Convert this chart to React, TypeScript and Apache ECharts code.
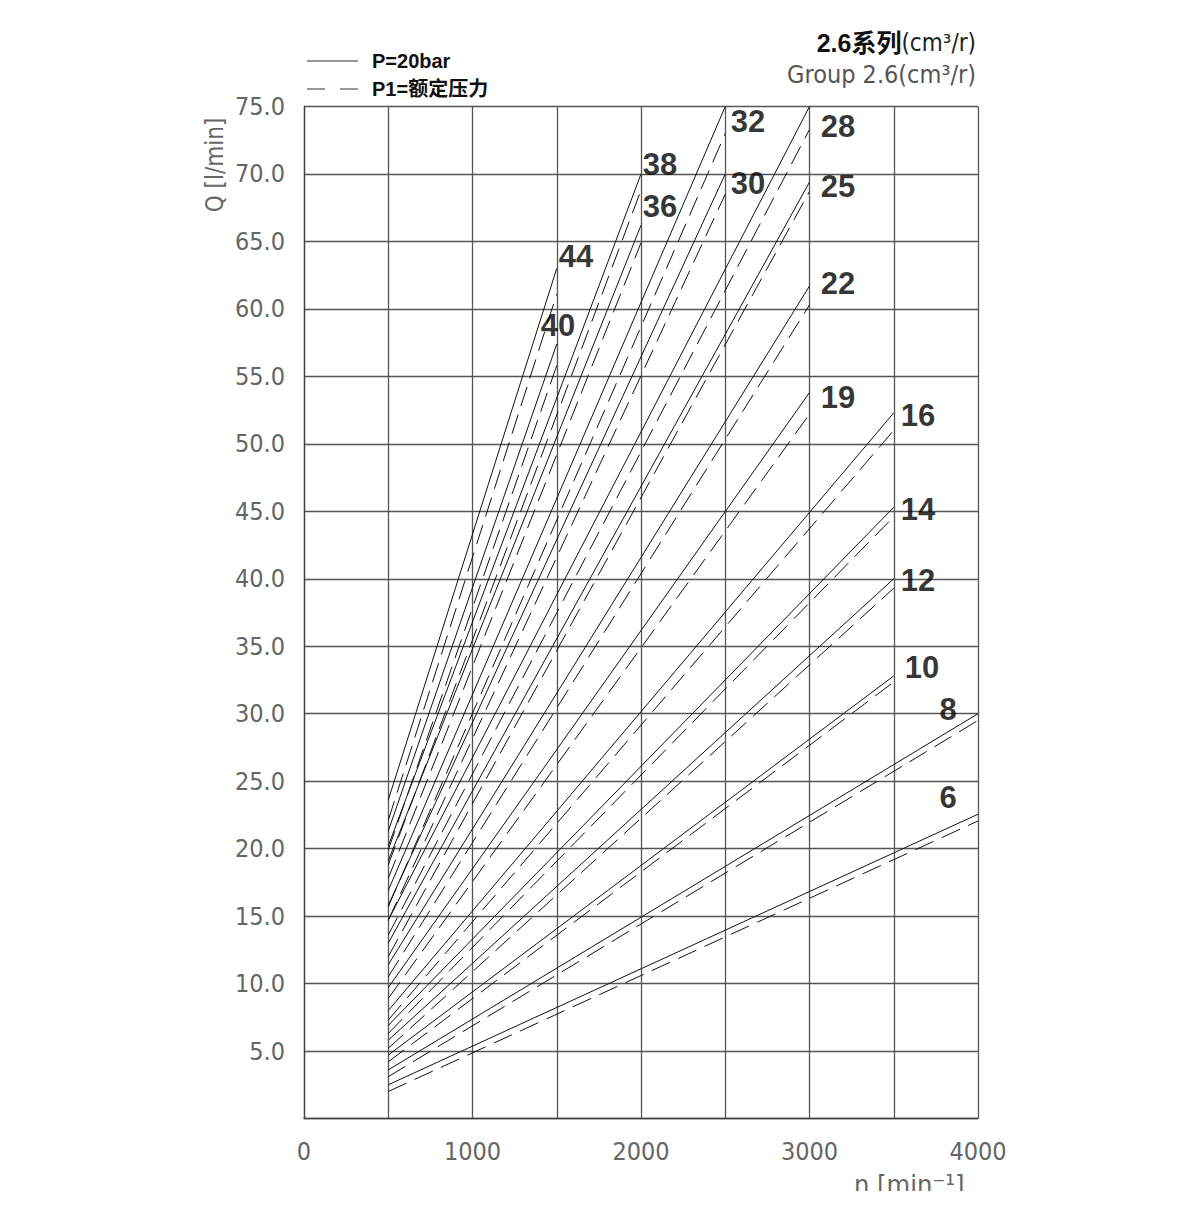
import React, { useEffect, useRef } from "react";
import * as echarts from "echarts";

// Displacements (cm³/r) and their curves: straight lines from n=500 to the end speed
const displacements = [6, 8, 10, 12, 14, 16, 19, 22, 25, 28, 30, 32, 36, 38, 40, 44];
const startSpeed = 500;
const endSpeeds = [4000, 4000, 3500, 3500, 3500, 3500, 3000, 3000, 3000, 3000, 2500, 2500, 2000, 2000, 1500, 1500];
// P = 20 bar (solid)
const solidStart = [2.5, 3.6, 4.7, 5.8, 6.9, 8.0, 9.7, 11.4, 13.0, 14.7, 15.8, 16.9, 19.1, 20.2, 21.3, 23.6];
const solidEnd = [22.55, 30.0, 32.8, 40.0, 45.3, 52.3, 53.8, 61.7, 69.4, 75.0, 70.0, 75.0, 66.2, 70.0, 57.4, 63.0];
// P1 = rated pressure (dashed)
const dashedStart = [2.0, 3.1, 4.2, 5.2, 6.3, 7.3, 8.9, 10.5, 12.0, 13.6, 14.7, 15.7, 17.8, 18.8, 19.9, 22.1];
const dashedEnd = [22.05, 29.5, 32.35, 39.3, 44.6, 51.0, 52.2, 60.3, 68.7, 73.3, 68.5, 73.0, 64.9, 68.8, 55.8, 61.1];
// Label anchor positions (n, Q) for the displacement numbers
const labelPos: [number, number][] = [
  [3822, 23.8], [3822, 30.3], [3668, 33.4], [3644, 39.9], [3644, 45.1], [3644, 52.1],
  [3169, 53.4], [3169, 61.9], [3169, 69.1], [3169, 73.5], [2635, 69.3], [2635, 73.9],
  [2113, 67.6], [2113, 70.7], [1507, 58.8], [1614, 63.9],
];
// Axes
const xMin = 0, xMax = 4000, xStep = 500;
const yMin = 0, yMax = 75, yStep = 5;

const NARROW = "'Liberation Sans Narrow', 'DejaVu Sans Condensed', Roboto, sans-serif";
const BOLD = "'Liberation Sans', Arial, 'Noto Sans CJK SC', sans-serif";

export default function App() {
  const ref = useRef<HTMLDivElement>(null);
  useEffect(() => {
    if (!ref.current) return;
    const chart = echarts.init(ref.current, null, { renderer: "svg" });
    const series: any[] = [];
    displacements.forEach((d, i) => {
      series.push({
        type: "line",
        name: `${d} P`,
        data: [[startSpeed, solidStart[i]], [endSpeeds[i], solidEnd[i]]],
        symbol: "none",
        lineStyle: { color: "#111", width: 1 },
        silent: true,
        z: 3,
      });
      series.push({
        type: "line",
        name: `${d} P1`,
        data: [[startSpeed, dashedStart[i]], [endSpeeds[i], dashedEnd[i]]],
        symbol: "none",
        lineStyle: { color: "#111", width: 1, type: [20, 9] },
        silent: true,
        z: 3,
      });
    });
    series.push({
      type: "scatter",
      symbolSize: 0,
      data: displacements.map((d, i) => ({ name: String(d), value: labelPos[i] })),
      label: {
        show: true,
        position: "inside",
        formatter: (p: any) => p.name,
        fontSize: 31,
        fontWeight: "bold",
        fontFamily: BOLD,
        color: "#000",
      },
      silent: true,
      z: 5,
    });

    chart.setOption({
      animation: false,
      backgroundColor: "#fff",
      grid: { left: 304, top: 106.5, width: 674, height: 1012, containLabel: false },
      xAxis: {
        type: "value",
        min: xMin,
        max: xMax,
        interval: xStep,
        axisLine: { show: true, lineStyle: { color: "#444", width: 1.3 } },
        axisTick: { show: false },
        splitLine: { show: true, lineStyle: { color: "#555", width: 1.3 } },
        axisLabel: {
          formatter: (v: number) => (v % 1000 === 0 ? String(v) : ""),
          margin: 20,
          color: "#666",
          fontSize: 25,
          fontFamily: NARROW,
        },
      },
      yAxis: {
        type: "value",
        min: yMin,
        max: yMax,
        interval: yStep,
        axisLine: { show: true, lineStyle: { color: "#444", width: 1.3 } },
        axisTick: { show: false },
        splitLine: { show: true, lineStyle: { color: "#555", width: 1.3 } },
        axisLabel: {
          formatter: (v: number) => (v === 0 ? "" : v.toFixed(1)),
          margin: 19,
          color: "#666",
          fontSize: 25,
          fontFamily: NARROW,
        },
      },
      graphic: [
        { type: "line", shape: { x1: 307, y1: 61, x2: 358, y2: 61 }, style: { stroke: "#333", lineWidth: 1 } },
        {
          type: "text", x: 372, y: 61,
          style: { text: "P=20bar", fontSize: 20, fontWeight: "bold", fontFamily: BOLD, fill: "#111", verticalAlign: "middle" },
        },
        { type: "line", shape: { x1: 307, y1: 89, x2: 358, y2: 89 }, style: { stroke: "#333", lineWidth: 1, lineDash: [18, 15] } },
        {
          type: "text", x: 372, y: 89,
          style: { text: "P1=额定压力", fontSize: 20, fontWeight: "bold", fontFamily: BOLD, fill: "#111", verticalAlign: "middle" },
        },
        {
          type: "text", x: 976, y: 43,
          style: {
            text: "{b|2.6系列}{n|(cm³/r)}",
            align: "right",
            verticalAlign: "middle",
            rich: {
              b: { fontSize: 25, fontWeight: "bold", fontFamily: BOLD, fill: "#111" },
              n: { fontSize: 24, fontFamily: NARROW, fill: "#222" },
            },
          },
        },
        {
          type: "text", x: 976, y: 74,
          style: { text: "Group 2.6(cm³/r)", align: "right", verticalAlign: "middle", fontSize: 25, fontFamily: NARROW, fill: "#555" },
        },
        {
          type: "text", x: 215, y: 165, rotation: Math.PI / 2,
          style: { text: "Q [l/min]", align: "center", verticalAlign: "middle", fontSize: 24, fontFamily: NARROW, fill: "#666" },
        },
        {
          type: "text", x: 854, y: 1184,
          style: { text: "n [min⁻¹]", align: "left", verticalAlign: "middle", fontSize: 27, fontFamily: NARROW, fill: "#666" },
        },
        { type: "rect", shape: { x: 840, y: 1191, width: 200, height: 30 }, style: { fill: "#fff" }, z: 10 },
      ],
      series,
    });
    return () => chart.dispose();
  }, []);
  return (
    <div
      ref={ref}
      style={{ position: "fixed", left: 0, top: 0, width: 1200, height: 1218, background: "#fff" }}
    />
  );
}
